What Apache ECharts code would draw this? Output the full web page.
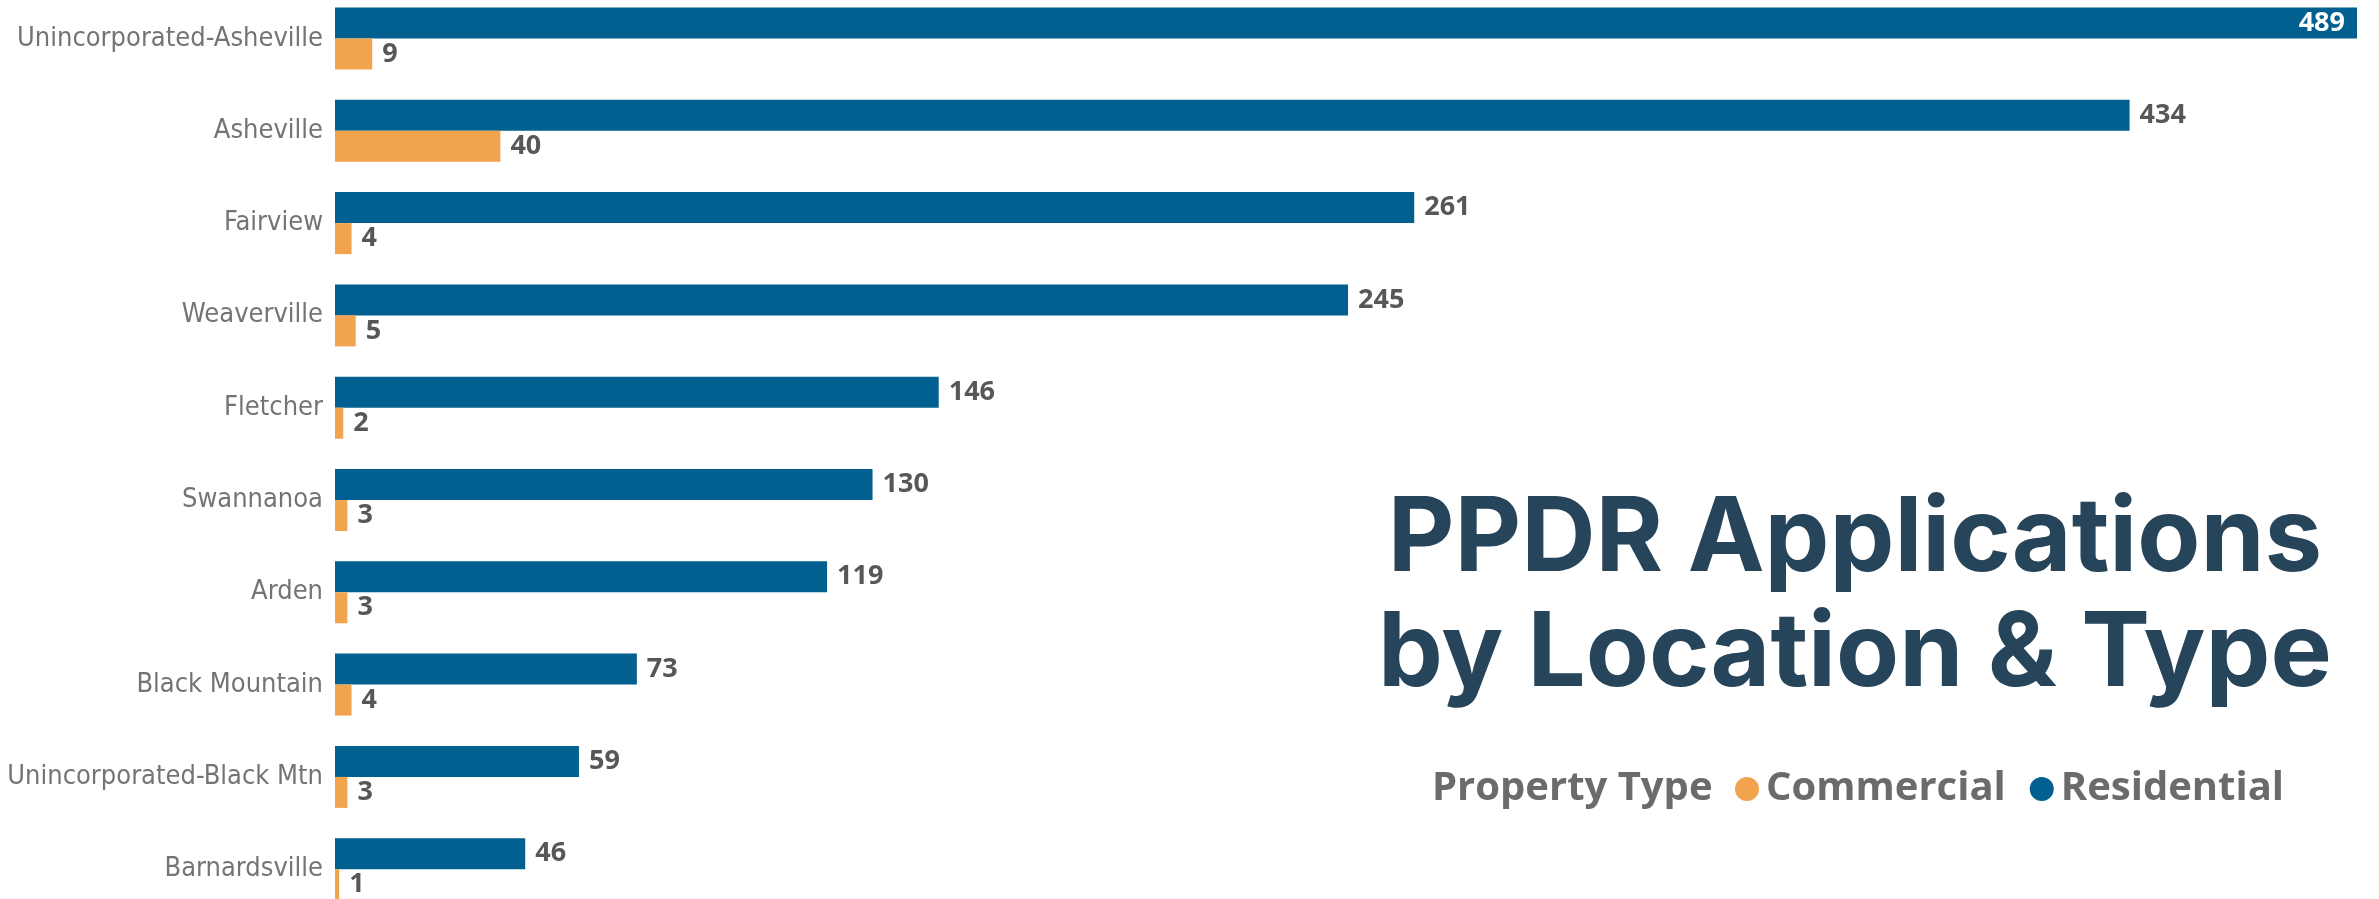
<!DOCTYPE html>
<html>
<head>
<meta charset="utf-8">
<script src="https://cdn.jsdelivr.net/npm/echarts@6/dist/echarts.min.js"></script>
<style>
html,body{margin:0;padding:0;background:#fff;}
#chart{width:2379px;height:899px;}
</style>
</head>
<body>
<div id="chart"></div>
<script>
const categories = ['Unincorporated-Asheville','Asheville','Fairview','Weaverville','Fletcher','Swannanoa','Arden','Black Mountain','Unincorporated-Black Mtn','Barnardsville'];
const residential = [489,434,261,245,146,130,119,73,59,46];
const commercial = [9,40,4,5,2,3,3,4,3,1];
const seriesNames = ['Commercial','Residential'];
const titleLines = ['PPDR Applications','by Location & Type'];
const legendTitle = 'Property Type';

const BLUE = '#01608F', ORANGE = '#F2A34E', TITLE = '#26445A';
const labelFont = {fontFamily:'"Open Sans", sans-serif', fontWeight:'bold', fontSize:27, color:'#575757'};
const maxVal = Math.max(...residential);

function mkData(arr){
  return arr.map(v => v === maxVal ? {value:v, label:{position:'insideRight', color:'#fff', distance:12}} : v);
}

const chart = echarts.init(document.getElementById('chart'), null, {renderer:'canvas'});
chart.setOption({
  animation:false,
  backgroundColor:'#fff',
  grid:{left:335, right:22, top:-7.65, bottom:-16.35, containLabel:false, outerBoundsMode:'none'},
  xAxis:{type:'value', min:0, max:maxVal, show:false},
  yAxis:{type:'category', data:categories, inverse:true,
    axisLine:{show:false}, axisTick:{show:false}, splitLine:{show:false},
    axisLabel:{margin:12, fontFamily:'"DejaVu Sans Condensed",sans-serif', fontSize:27, color:'#747474'}},
  legend:{data:seriesNames, left:1735, top:769, padding:0, icon:'circle', itemWidth:24, itemHeight:24, itemGap:24,
    textStyle:{fontFamily:'"Open Sans", sans-serif', fontWeight:'bold', fontSize:40, color:'#6b6b6b', padding:[0,0,0,2]}},
  graphic:[
    {type:'text', x:1432, y:789, style:{text:legendTitle, fontFamily:'"Open Sans", sans-serif', fontWeight:'bold', fontSize:40, fill:'#6b6b6b', verticalAlign:'middle', textAlign:'left'}},
    {type:'text', x:1855, y:540, style:{text:titleLines[0], fontFamily:'Inter, sans-serif', fontWeight:'bold', fontSize:103, fill:TITLE, verticalAlign:'middle', textAlign:'center'}},
    {type:'text', x:1855, y:655, style:{text:titleLines[1], fontFamily:'Inter, sans-serif', fontWeight:'bold', fontSize:103, fill:TITLE, verticalAlign:'middle', textAlign:'center'}}
  ],
  series:[
    {name:'Residential', type:'bar', data:mkData(residential), barWidth:31, barGap:'0%', itemStyle:{color:BLUE},
      label:Object.assign({show:true, position:'right', distance:10}, labelFont)},
    {name:'Commercial', type:'bar', data:mkData(commercial), barWidth:31, barGap:'0%', itemStyle:{color:ORANGE},
      label:Object.assign({show:true, position:'right', distance:10}, labelFont)}
  ]
});
</script>
</body>
</html>
